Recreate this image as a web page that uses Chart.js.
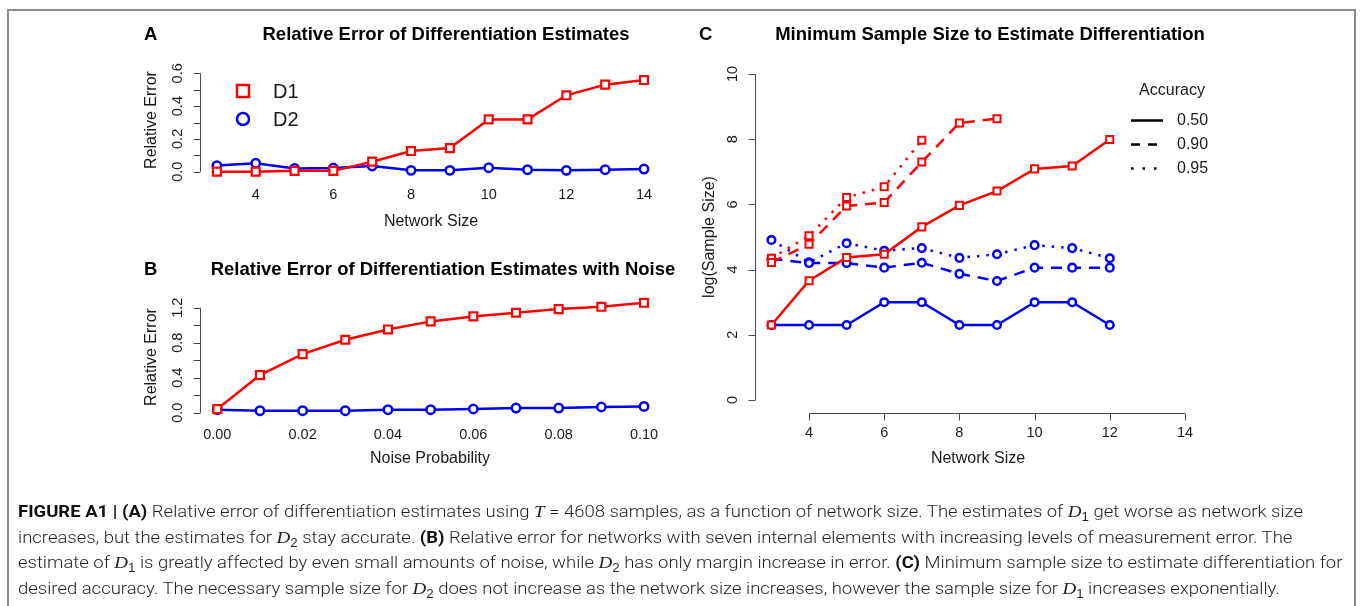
<!DOCTYPE html>
<html><head><meta charset="utf-8">
<script src="https://cdn.jsdelivr.net/npm/chart.js@4.4.0/dist/chart.umd.min.js"></script>
<style>
html,body{margin:0;padding:0;background:#fff;width:1360px;height:606px;overflow:hidden;position:relative;}
#frame{position:absolute;left:7px;top:9px;width:1349px;height:640px;border:2px solid #8a8a8a;box-sizing:border-box;}
canvas{position:absolute;left:0;top:0;}
#caption{position:absolute;left:18px;top:499px;font-family:Roboto,'Liberation Sans',sans-serif;font-weight:300;font-size:16.5px;color:#231f20;}
.ln{white-space:nowrap;height:25.5px;line-height:25.5px;transform-origin:0 50%;width:max-content;}
#caption b{font-weight:700;color:#111;}
.m{font-family:'Liberation Serif','DejaVu Serif',serif;font-style:italic;font-weight:400;font-size:17px;}
#caption sub{font-size:72%;vertical-align:-0.35em;line-height:0;font-style:normal;font-family:'Liberation Sans',sans-serif;}
</style></head><body>
<div id="frame"></div>
<canvas id="cA" width="1360" height="606"></canvas>
<canvas id="cB" width="1360" height="606"></canvas>
<canvas id="cC" width="1360" height="606"></canvas>
<div id="caption">
<div class="ln" id="l1"><b>FIGURE A1 | (A)</b> Relative error of differentiation estimates using <span class="m">T</span> = 4608 samples, as a function of network size. The estimates of <span class="m">D</span><sub>1</sub> get worse as network size</div>
<div class="ln">increases, but the estimates for <span class="m">D</span><sub>2</sub> stay accurate. <b>(B)</b> Relative error for networks with seven internal elements with increasing levels of measurement error. The</div>
<div class="ln">estimate of <span class="m">D</span><sub>1</sub> is greatly affected by even small amounts of noise, while <span class="m">D</span><sub>2</sub> has only margin increase in error. <b>(C)</b> Minimum sample size to estimate differentiation for</div>
<div class="ln">desired accuracy. The necessary sample size for <span class="m">D</span><sub>2</sub> does not increase as the network size increases, however the sample size for <span class="m">D</span><sub>1</sub> increases exponentially.</div>
</div>
<script>
// ---------- Panel A data ----------
const networkSizeA = [3, 4, 5, 6, 7, 8, 9, 10, 11, 12, 13, 14];
const d1ErrorA = [0.000, 0.000, 0.005, 0.005, 0.061, 0.126, 0.144, 0.319, 0.319, 0.466, 0.531, 0.559];
const d2ErrorA = [0.037, 0.051, 0.020, 0.022, 0.035, 0.008, 0.008, 0.024, 0.012, 0.008, 0.012, 0.016];
const aXTicks = [4, 6, 8, 10, 12, 14];
const aXTickLabels = ['4', '6', '8', '10', '12', '14'];
const aYTicks = [0, 0.1, 0.2, 0.3, 0.4, 0.5, 0.6];
const aYTickLabels = ['0.0', '', '0.2', '', '0.4', '', '0.6'];

// ---------- Panel B data ----------
const noiseProbB = [0.00, 0.01, 0.02, 0.03, 0.04, 0.05, 0.06, 0.07, 0.08, 0.09, 0.10];
const d1ErrorB = [0.042, 0.430, 0.670, 0.834, 0.952, 1.044, 1.101, 1.143, 1.185, 1.211, 1.257];
const d2ErrorB = [0.034, 0.023, 0.023, 0.023, 0.034, 0.034, 0.042, 0.053, 0.053, 0.065, 0.072];
const bXTicks = [0, 0.02, 0.04, 0.06, 0.08, 0.10];
const bXTickLabels = ['0.00', '0.02', '0.04', '0.06', '0.08', '0.10'];
const bYTicks = [0, 0.2, 0.4, 0.6, 0.8, 1.0, 1.2];
const bYTickLabels = ['0.0', '', '0.4', '', '0.8', '', '1.2'];

// ---------- Panel C data (log sample size) ----------
const networkSizeC = [3, 4, 5, 6, 7, 8, 9, 10, 11, 12];
const d1Acc50 = [2.30, 3.66, 4.37, 4.47, 5.31, 5.97, 6.41, 7.09, 7.18, 7.99];
const d1Acc90 = [4.22, 4.78, 5.95, 6.06, 7.30, 8.50, 8.63];
const d1Acc95 = [4.35, 5.04, 6.21, 6.54, 7.97];
const d2Acc50 = [2.30, 2.30, 2.30, 3.00, 3.00, 2.30, 2.30, 3.00, 3.00, 2.30];
const d2Acc90 = [4.33, 4.20, 4.20, 4.06, 4.21, 3.87, 3.65, 4.06, 4.06, 4.06];
const d2Acc95 = [4.91, 4.22, 4.81, 4.58, 4.66, 4.36, 4.47, 4.75, 4.66, 4.35];
const cXTicks = [4, 6, 8, 10, 12, 14];
const cXTickLabels = ['4', '6', '8', '10', '12', '14'];
const cYTicks = [0, 2, 4, 6, 8, 10];
const cYTickLabels = ['0', '2', '4', '6', '8', '10'];
const accuracyLevels = ['0.50', '0.90', '0.95'];
const seriesNames = ['D1', 'D2'];

const FONT = "'Liberation Sans', Arial, Helvetica, sans-serif";
const RED = '#ff0000', BLUE = '#0000ff', AXIS = '#4a4a4a', TXT = '#1a1a1a';
const DASH = [11, 8], DOT = [2.5, 7];

function series(xs, ys, color, style, r, bw, dash) {
  return {
    data: ys.map((y, i) => ({ x: xs[i], y })),
    borderColor: color, backgroundColor: color, borderWidth: 2.5,
    borderDash: dash || [], pointStyle: style, pointRadius: r,
    pointBorderWidth: bw, pointBorderColor: color, pointBackgroundColor: '#fff',
    pointHoverRadius: r, fill: false, clip: false, tension: 0
  };
}

function txt(c, s, x, y, size, bold, align, rot) {
  c.save();
  c.font = (bold ? 'bold ' : '') + size + 'px ' + FONT;
  c.fillStyle = bold ? '#000' : TXT;
  c.textAlign = align || 'center';
  c.textBaseline = 'middle';
  c.translate(x, y);
  if (rot) c.rotate(rot);
  c.fillText(s, 0, 0);
  c.restore();
}

function rPlugin(spec) {
  return {
    id: 'r' + spec.id,
    afterDraw(chart) {
      const c = chart.ctx, xs = chart.scales.x, ys = chart.scales.y, a = chart.chartArea;
      c.save();
      c.strokeStyle = AXIS; c.lineWidth = 1;
      const x0 = Math.round(a.left) + 0.5;
      const yT = spec.yTicks;
      c.beginPath();
      c.moveTo(x0, ys.getPixelForValue(yT[0]));
      c.lineTo(x0, ys.getPixelForValue(yT[yT.length - 1]));
      yT.forEach(v => { const p = Math.round(ys.getPixelForValue(v)) + 0.5; c.moveTo(x0, p); c.lineTo(x0 - 7, p); });
      c.stroke();
      yT.forEach((v, i) => { if (spec.yLabels[i]) txt(c, spec.yLabels[i], spec.yLabelX, ys.getPixelForValue(v), 14.5, false, 'center', -Math.PI / 2); });
      if (spec.xAxisLine) {
        const y0 = Math.round(a.bottom) + 0.5, xT = spec.xTicks;
        c.beginPath();
        c.moveTo(xs.getPixelForValue(xT[0]), y0);
        c.lineTo(xs.getPixelForValue(xT[xT.length - 1]), y0);
        xT.forEach(v => { const p = Math.round(xs.getPixelForValue(v)) + 0.5; c.moveTo(p, y0); c.lineTo(p, y0 + 7); });
        c.stroke();
      }
      spec.xTicks.forEach((v, i) => txt(c, spec.xLabels[i], xs.getPixelForValue(v), spec.xLabelY, 14.5, false));
      txt(c, spec.xTitle, spec.xTitlePos[0], spec.xTitlePos[1], 16, false);
      txt(c, spec.yTitle, spec.yTitlePos[0], spec.yTitlePos[1], 16, false, 'center', -Math.PI / 2);
      txt(c, spec.title, spec.titlePos[0], spec.titlePos[1], 18.5, true);
      txt(c, spec.letter, spec.letterPos[0], spec.letterPos[1], 18.5, true, 'left');
      if (spec.legend) spec.legend(c);
      c.restore();
    }
  };
}

function makeChart(id, datasets, area, xr, yr, spec) {
  return new Chart(document.getElementById(id), {
    type: 'line',
    data: { datasets },
    options: {
      responsive: false, animation: false, devicePixelRatio: 1,
      layout: { padding: { left: area[0], top: area[1], right: 1360 - area[2], bottom: 606 - area[3] } },
      plugins: { legend: { display: false }, tooltip: { enabled: false }, title: { display: false } },
      events: [],
      scales: {
        x: { type: 'linear', min: xr[0], max: xr[1], display: false },
        y: { type: 'linear', min: yr[0], max: yr[1], display: false }
      }
    },
    plugins: [rPlugin(spec)]
  });
}

// ---- Panel A ----
makeChart('cA', [
  series(networkSizeA, d1ErrorA, RED, 'rect', 5.6, 2.2),
  series(networkSizeA, d2ErrorA, BLUE, 'circle', 4.2, 2.5)
], [199.8, 69.4, 661.1, 175.6], [2.56, 14.44], [-0.024, 0.624], {
  id: 'A', yTicks: aYTicks, yLabels: aYTickLabels, yLabelX: 178,
  xTicks: aXTicks, xLabels: aXTickLabels, xLabelY: 195, xAxisLine: false,
  xTitle: 'Network Size', xTitlePos: [431, 221.5], yTitle: 'Relative Error', yTitlePos: [152, 120],
  title: 'Relative Error of Differentiation Estimates', titlePos: [446, 35], letter: 'A', letterPos: [144, 35],
  legend(c) {
    c.lineWidth = 2.5; c.strokeStyle = RED; c.fillStyle = '#fff';
    c.strokeRect(237, 85, 12, 12);
    c.strokeStyle = BLUE; c.beginPath(); c.arc(243, 119, 6, 0, Math.PI * 2); c.stroke();
    txt(c, seriesNames[0], 273, 92.5, 20, false, 'left');
    txt(c, seriesNames[1], 273, 120, 20, false, 'left');
  }
});

// ---- Panel B ----
makeChart('cB', [
  series(noiseProbB, d1ErrorB, RED, 'rect', 5.6, 2.2),
  series(noiseProbB, d2ErrorB, BLUE, 'circle', 4.2, 2.5)
], [200.2, 298.1, 661.1, 417.1], [-0.004, 0.104], [-0.0504, 1.3104], {
  id: 'B', yTicks: bYTicks, yLabels: bYTickLabels, yLabelX: 178,
  xTicks: bXTicks, xLabels: bXTickLabels, xLabelY: 435, xAxisLine: false,
  xTitle: 'Noise Probability', xTitlePos: [430, 458.5], yTitle: 'Relative Error', yTitlePos: [152, 357],
  title: 'Relative Error of Differentiation Estimates with Noise', titlePos: [443, 270], letter: 'B', letterPos: [144, 270]
});

// ---- Panel C ----
const sC = networkSizeC;
makeChart('cC', [
  series(sC, d1Acc50, RED, 'rect', 5, 2),
  series(sC, d1Acc90, RED, 'rect', 5, 2, DASH),
  series(sC, d1Acc95, RED, 'rect', 5, 2, DOT),
  series(sC, d2Acc50, BLUE, 'circle', 3.8, 2.5),
  series(sC, d2Acc90, BLUE, 'circle', 3.8, 2.5, DASH),
  series(sC, d2Acc95, BLUE, 'circle', 3.8, 2.5, DOT)
], [754.9, 61, 1201.5, 413], [2.56, 14.44], [-0.4, 10.4], {
  id: 'C', yTicks: cYTicks, yLabels: cYTickLabels, yLabelX: 733,
  xTicks: cXTicks, xLabels: cXTickLabels, xLabelY: 432.5, xAxisLine: true,
  xTitle: 'Network Size', xTitlePos: [978, 458.5], yTitle: 'log(Sample Size)', yTitlePos: [710, 237],
  title: 'Minimum Sample Size to Estimate Differentiation', titlePos: [990, 35], letter: 'C', letterPos: [699, 35],
  legend(c) {
    txt(c, 'Accuracy', 1172, 90.5, 16, false);
    const ys = [120.5, 144.5, 168.5], dashes = [[], [9, 8], [2.5, 9]];
    c.strokeStyle = '#000'; c.lineWidth = 2.5;
    ys.forEach((y, i) => {
      c.setLineDash(dashes[i]); c.beginPath(); c.moveTo(1131, y); c.lineTo(1163, y); c.stroke();
      txt(c, accuracyLevels[i], 1177, y, 16, false, 'left');
    });
    c.setLineDash([]);
  }
});

// caption: fit first line width to reference
(function () {
  const l1 = document.getElementById('l1');
  const w = l1.getBoundingClientRect().width;
  const k = 1285 / w;
  document.querySelectorAll('.ln').forEach(el => el.style.transform = 'scaleX(' + k + ')');
})();
</script>
</body></html>
